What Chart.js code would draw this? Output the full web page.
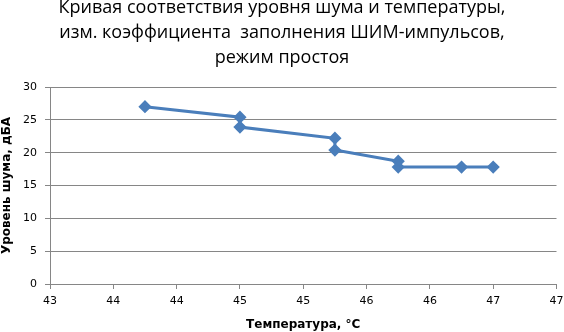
<!DOCTYPE html>
<html lang="ru">
<head>
  <meta charset="UTF-8">
  <title>Уровень шума и температура</title>
  <script src="https://cdn.jsdelivr.net/npm/chart.js"></script>
  <style>
    body {
      margin: 0;
      background: white;
    }
    canvas {
      display: block;
    }
  </style>
</head>
<body>
  <canvas id="noiseChart" width="564" height="332"></canvas>
  <script>
    // Данные с графика
    const temperature = [43.75, 44.5, 44.5, 45.25, 45.25, 45.75, 45.75, 46.25, 46.5];
    const noise = [27, 25.4, 23.9, 22.2, 20.4, 18.7, 17.8, 17.8, 17.8];
    const xTickLabels = ['43', '44', '44', '45', '45', '46', '46', '47', '47'];
    const titleLines = [
      'Кривая соответствия уровня шума и температуры,',
      'изм. коэффициента  заполнения ШИМ-импульсов,',
      'режим простоя'
    ];

    const gridColor = '#868686';
    const axisFont = { family: 'DejaVu Sans', size: 11 };

    new Chart(document.getElementById('noiseChart'), {
      type: 'line',
      data: {
        datasets: [{
          data: temperature.map((t, i) => ({ x: t, y: noise[i] })),
          borderColor: '#4a7ebb',
          backgroundColor: '#4a7ebb',
          borderWidth: 3,
          pointStyle: 'rectRot',
          pointRadius: 4.5,
          pointHoverRadius: 4.5,
          tension: 0
        }]
      },
      options: {
        responsive: false,
        animation: false,
        devicePixelRatio: 1,
        layout: { padding: { left: 0, right: 0, top: 0, bottom: 0 } },
        plugins: {
          legend: { display: false },
          tooltip: { enabled: false },
          title: {
            display: true,
            text: titleLines,
            color: '#000',
            font: { family: 'Open Sans', size: 18, weight: 'normal', lineHeight: 25 / 18 },
            padding: { top: -5, bottom: 17 }
          }
        },
        scales: {
          x: {
            type: 'linear',
            min: 43,
            max: 47,
            afterFit: s => {
              s.height = 48;
              s.paddingLeft = 0;
              s.paddingRight = 0;
            },
            afterBuildTicks: s => {
              s.ticks = xTickLabels.map((_, i) => ({ value: 43 + i * 0.5 }));
            },
            ticks: {
              stepSize: 0.5,
              color: '#000',
              font: axisFont,
              padding: 6,
              maxRotation: 0,
              autoSkip: false,
              callback: (v, i) => xTickLabels[i]
            },
            grid: { drawOnChartArea: false, color: gridColor, tickLength: 5 },
            border: { color: gridColor },
            title: {
              display: true,
              text: 'Температура, °C',
              color: '#000',
              font: { family: 'DejaVu Sans', size: 12, weight: 'bold' },
              padding: { top: 0, bottom: 0 }
            }
          },
          y: {
            min: 0,
            max: 30,
            afterFit: s => { s.width = 50; },
            ticks: {
              stepSize: 5,
              color: '#000',
              font: axisFont,
              padding: 8
            },
            grid: { color: gridColor, tickLength: 5 },
            border: { color: gridColor },
            title: {
              display: true,
              text: 'Уровень шума, дБА',
              color: '#000',
              font: { family: 'DejaVu Sans', size: 12, weight: 'bold' },
              padding: { top: 0, bottom: 0 }
            }
          }
        }
      }
    });
  </script>
</body>
</html>
